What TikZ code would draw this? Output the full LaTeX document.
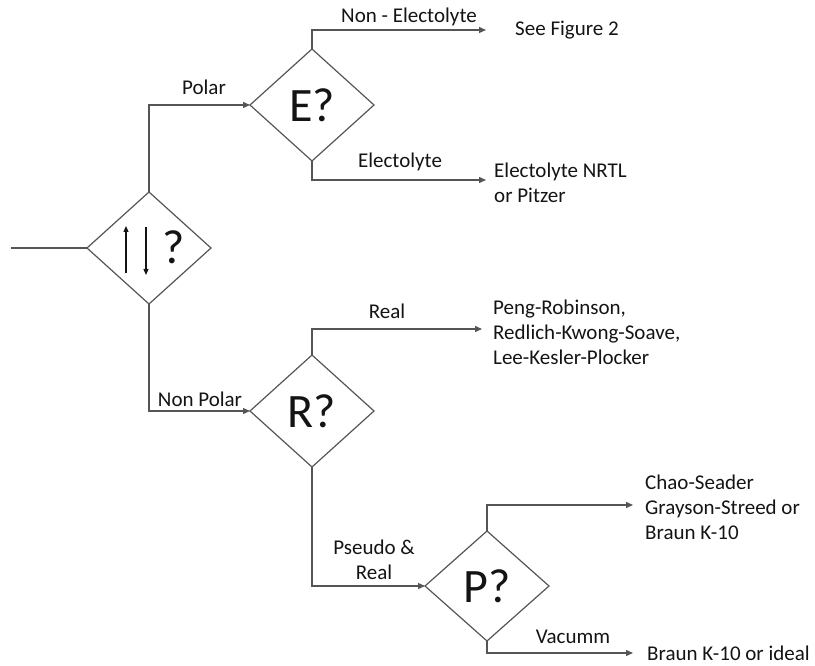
\documentclass[tikz,border=0pt]{standalone}
\usepackage{fontspec}
\setmainfont{Carlito}
\usetikzlibrary{shapes.geometric,arrows.meta,calc}
\definecolor{linegray}{HTML}{555555}
\definecolor{txt}{HTML}{141414}
\begin{document}
\begin{tikzpicture}[x=1pt,y=-1pt,
  dec/.style={diamond, draw=linegray, line width=1.2pt, minimum width=124pt,
    minimum height=112pt, inner sep=0pt, outer sep=0pt,
    font=\fontsize{48}{48}\selectfont, text=txt},
  conn/.style={draw=linegray, line width=1.3pt},
  arr/.style={conn, -{Triangle[length=7pt,width=6pt]}},
  smallarr/.style={draw=txt, line width=1.1pt, -{Triangle[length=6pt,width=5pt]}},
  lbl/.style={font=\fontsize{21}{25}\selectfont, text=txt, inner sep=0pt},
  res/.style={lbl, anchor=west, align=left}]
\useasboundingbox (0,0) rectangle (815,666);

% decision diamonds
\node[dec] (main) at (149,248) {};
\node[lbl, font=\fontsize{48}{48}\selectfont] (mq) at (174,247) {?};
\draw[smallarr] ($(main.center)+(-23,25)$) -- ($(main.center)+(-23,-22)$);
\draw[smallarr] ($(main.center)+(-3,-21)$) -- ($(main.center)+(-3,27)$);
\node[dec] (E) at (312,105) {E?};
\node[dec] (R) at (312,411) {R?};
\node[dec, minimum height=110pt] (P) at (487,586) {P?};

% result texts
\node[res] (r1) at (515,30) {See Figure 2};
\node[res] (r2) at (494,183) {Electolyte NRTL\\or Pitzer};
\node[res] (r3) at (493,332) {Peng-Robinson,\\Redlich-Kwong-Soave,\\Lee-Kesler-Plocker};
\node[res] (r4) at (645,507) {Chao-Seader\\Grayson-Streed or\\Braun K-10};
\node[res] (r5) at (647,653) {Braun K-10 or ideal};

% arrow tips
\coordinate (in) at (11,248);
\coordinate (tNE) at (486,30);
\coordinate (tEl) at (486,180);
\coordinate (tRe) at (482,329);
\coordinate (tCh) at (633,505);
\coordinate (tVa) at (633,653);

% connectors
\draw[conn] (in) -- (main.west);
\draw[arr] (main.north) |- (E.west);
\draw[arr] (main.south) |- (R.west);
\draw[arr] (E.north) |- (tNE);
\draw[arr] (E.south) |- (tEl);
\draw[arr] (R.north) |- (tRe);
\draw[arr] (R.south) |- (P.west);
\draw[arr] (P.north) |- (tCh);
\draw[arr] (P.south) |- (tVa);

% connector labels
\node[lbl] (lPolar) at (204,87) {Polar};
\node[lbl] (lNonEl) at (409,17) {Non - Electolyte};
\node[lbl] (lEl) at (400,162) {Electolyte};
\node[lbl] (lReal) at (387,311) {Real};
\node[lbl] (lNonPolar) at (200,399) {Non Polar};
\node[lbl, align=center] (lPseudo) at (374,560) {Pseudo \&\\Real};
\node[lbl] (lVac) at (573,637) {Vacumm};
\end{tikzpicture}
\end{document}
